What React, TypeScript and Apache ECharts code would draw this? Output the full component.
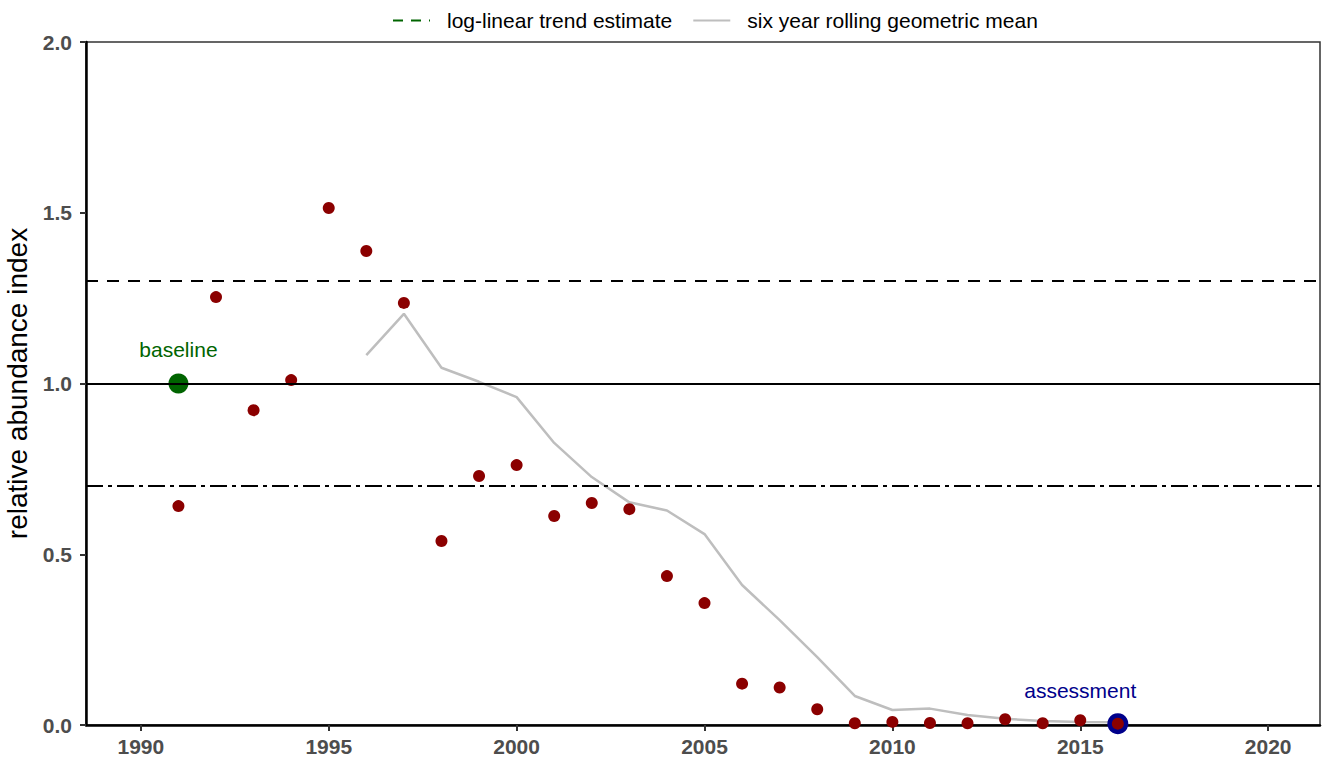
import React, { useEffect, useRef } from "react";
import * as echarts from "echarts";

const years = [1991, 1992, 1993, 1994, 1995, 1996, 1997, 1998, 1999, 2000, 2001, 2002, 2003, 2004, 2005, 2006, 2007, 2008, 2009, 2010, 2011, 2012, 2013, 2014, 2015, 2016];
const indexValues = [0.641, 1.253, 0.922, 1.01, 1.514, 1.388, 1.236, 0.539, 0.729, 0.761, 0.612, 0.65, 0.632, 0.436, 0.357, 0.121, 0.11, 0.046, 0.005, 0.009, 0.006, 0.005, 0.017, 0.005, 0.014, 0.004];
const rollingYears = [1996, 1997, 1998, 1999, 2000, 2001, 2002, 2003, 2004, 2005, 2006, 2007, 2008, 2009, 2010, 2011, 2012, 2013, 2014, 2015, 2016];
const rollingValues = [1.083, 1.204, 1.046, 1.005, 0.96, 0.826, 0.726, 0.652, 0.628, 0.559, 0.41, 0.307, 0.199, 0.085, 0.044, 0.048, 0.029, 0.018, 0.012, 0.009, 0.008];
const baselinePoint = [1991, 1.0];
const assessmentPoint = [2016, 0.004];
const refLevels = [1.3, 1.0, 0.7];
const xTicks = [1990, 1995, 2000, 2005, 2010, 2015, 2020];
const annotations = [
  { x: 1991, y: 1.1, text: "baseline", color: "#006400" },
  { x: 2015, y: 0.1, text: "assessment", color: "#00008B" },
];

const FONT = "Liberation Sans, Arial, Helvetica, sans-serif";

export default function App() {
  const ref = useRef<HTMLDivElement>(null);
  useEffect(() => {
    if (!ref.current) return;
    const chart = echarts.init(ref.current, null, { renderer: "svg" });
    const refStyles: any[] = [
      { type: [12, 9], width: 2 },
      { type: "solid", width: 2 },
      { type: [17, 5, 4, 5], width: 2 },
    ];
    chart.setOption({
      animation: false,
      backgroundColor: "#ffffff",
      textStyle: { fontFamily: FONT },
      grid: {
        left: 86,
        right: 6,
        top: 42,
        bottom: 33,
        outerBoundsMode: "none",
        containLabel: false,
        show: true,
        borderColor: "#333333",
        borderWidth: 1.5,
        backgroundColor: "transparent",
      },
      legend: {
        top: 5,
        left: 387,
        itemWidth: 37,
        itemHeight: 16,
        itemGap: 20,
        itemStyle: { opacity: 0 },
        data: ["log-linear trend estimate", "six year rolling geometric mean"],
        textStyle: { fontSize: 21, color: "#000", fontFamily: FONT, padding: [0, 0, 0, 12] },
      },
      xAxis: {
        type: "value",
        min: 1988.54,
        max: 2021.38,
        splitLine: { show: false },
        axisLine: { show: true, onZero: false, lineStyle: { color: "#000", width: 2.5 } },
        axisTick: { show: true, length: 6, customValues: xTicks, lineStyle: { color: "#333", width: 2 } },
        axisLabel: {
          customValues: xTicks,
          formatter: (v: number) => String(v),
          fontSize: 21,
          fontWeight: "bold",
          color: "#4D4D4D",
          margin: 11,
          fontFamily: FONT,
        },
      },
      yAxis: {
        type: "value",
        min: 0,
        max: 2,
        interval: 0.5,
        name: "relative abundance index",
        nameLocation: "middle",
        nameGap: 50,
        nameTextStyle: { fontSize: 28, color: "#000", fontFamily: FONT },
        splitLine: { show: false },
        axisLine: { show: true, onZero: false, lineStyle: { color: "#000", width: 2.5 } },
        axisTick: { show: true, length: 6, lineStyle: { color: "#333", width: 2 } },
        axisLabel: {
          formatter: (v: number) => v.toFixed(1),
          fontSize: 21,
          fontWeight: "bold",
          color: "#4D4D4D",
          margin: 14,
          fontFamily: FONT,
        },
      },
      series: [
        {
          name: "log-linear trend estimate",
          type: "line",
          data: [],
          symbol: "none",
          itemStyle: { color: "#006400" },
          lineStyle: { color: "#006400", width: 2.5, type: [10, 8] },
        },
        {
          name: "six year rolling geometric mean",
          type: "line",
          data: rollingYears.map((y, i) => [y, rollingValues[i]]),
          symbol: "none",
          z: 2,
          itemStyle: { color: "#BEBEBE" },
          lineStyle: { color: "#BEBEBE", width: 2.5 },
        },
        {
          name: "refs",
          type: "scatter",
          data: [],
          z: 1,
          markLine: {
            silent: true,
            symbol: "none",
            label: { show: false },
            data: refLevels.map((v, i) => ({ yAxis: v, lineStyle: { color: "#000", ...refStyles[i] } })),
          },
        },
        {
          name: "baseline",
          type: "scatter",
          data: [baselinePoint],
          symbolSize: 20,
          z: 3,
          itemStyle: { color: "#006400", opacity: 1 },
        },
        {
          name: "assessment",
          type: "scatter",
          data: [assessmentPoint],
          symbolSize: 21,
          z: 3,
          itemStyle: { color: "#00008B", opacity: 1 },
        },
        {
          name: "index",
          type: "scatter",
          data: years.map((y, i) => [y, indexValues[i]]),
          symbolSize: 12,
          z: 4,
          itemStyle: { color: "#8B0000", opacity: 1 },
        },
        {
          name: "labels",
          type: "scatter",
          symbolSize: 0,
          z: 5,
          itemStyle: { opacity: 1 },
          data: annotations.map((a) => ({
            value: [a.x, a.y],
            label: {
              show: true,
              position: "inside",
              formatter: a.text,
              color: a.color,
              fontSize: 21,
              fontFamily: FONT,
            },
          })),
        },
      ],
    });
    return () => chart.dispose();
  }, []);
  return <div ref={ref} style={{ position: "absolute", left: 0, top: 0, width: 1326, height: 758 }} />;
}
